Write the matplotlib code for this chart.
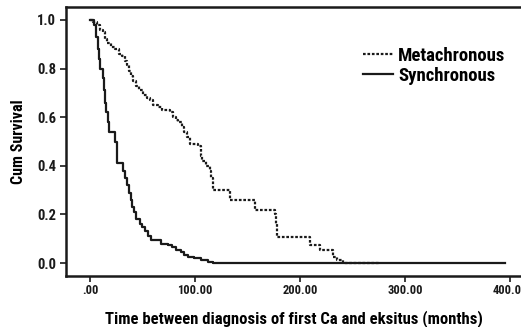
import matplotlib
matplotlib.use("Agg")
import matplotlib.pyplot as plt
from matplotlib.lines import Line2D

plt.rcParams['font.family'] = ['Roboto Condensed', 'DejaVu Sans']
plt.rcParams['font.stretch'] = 'condensed'
plt.rcParams['font.weight'] = 'bold'

# Kaplan-Meier step data (time in months, cumulative survival)
sync_t = [0, 4, 6, 7, 8, 9.5, 12.5, 13.5, 14.5, 15.5, 16.5, 18, 24, 25.5, 31.5, 33, 35, 37,
          38.5, 40, 41.5, 44, 47, 49.5, 52, 55, 58, 67, 74, 78, 82, 86, 89, 93, 99, 105,
          112, 117, 395]
sync_s = [1.0, 0.98, 0.93, 0.88, 0.84, 0.80, 0.76, 0.71, 0.66, 0.62, 0.58, 0.54, 0.50, 0.41,
          0.38, 0.35, 0.32, 0.29, 0.26, 0.23, 0.21, 0.18, 0.16, 0.15, 0.13, 0.11, 0.095, 0.08,
          0.074, 0.065, 0.053, 0.045, 0.035, 0.025, 0.02, 0.012, 0.005, 0.0, 0.0]

meta_t = [0, 3, 6.5, 9, 12, 14, 16, 20, 24, 27, 30, 33, 35, 37, 39, 41, 44, 46, 50, 54, 57,
          60, 65, 68, 76, 79, 82, 84, 87, 89, 92, 95, 103, 105, 106, 110, 114, 115, 117, 133,
          157, 176, 177, 178, 209.5, 219, 231.5, 235, 241, 276]
meta_s = [1.0, 0.99, 0.98, 0.96, 0.95, 0.92, 0.905, 0.89, 0.88, 0.86, 0.85, 0.83, 0.815, 0.79,
          0.77, 0.75, 0.73, 0.71, 0.69, 0.68, 0.67, 0.65, 0.64, 0.63, 0.62, 0.60, 0.59, 0.58,
          0.56, 0.54, 0.52, 0.49, 0.48, 0.44, 0.42, 0.40, 0.38, 0.35, 0.30, 0.26, 0.22, 0.20,
          0.16, 0.107, 0.074, 0.053, 0.025, 0.012, 0.0, 0.0]

x_ticks = [0, 100, 200, 300, 400]
x_tick_labels = ['.00', '100.00', '200.00', '300.00', '400.00']
y_ticks = [0.0, 0.2, 0.4, 0.6, 0.8, 1.0]
y_tick_labels = ['0.0', '0.2', '0.4', '0.6', '0.8', '1.0']

fig = plt.figure(figsize=(5.21, 3.27), dpi=100)
ax = fig.add_axes([66/521, 1 - 276/327, 1 - 66/521, (276 - 7)/327])

ax.plot(sync_t, sync_s, drawstyle='steps-post', color='#1a1a1a', lw=1.6, label='Synchronous')
ax.plot(meta_t, meta_s, drawstyle='steps-post', color='#1a1a1a', lw=1.6,
        linestyle=(0, (1.2, 0.8)), label='Metachronous')

ax.set_xlim(-23, 410)
ax.set_ylim(-0.053, 1.053)
ax.set_xticks(x_ticks)
ax.set_xticklabels(x_tick_labels)
ax.set_yticks(y_ticks)
ax.set_yticklabels(y_tick_labels)
ax.tick_params(direction='out', length=4, width=1.2, labelsize=9, colors='#1a1a1a', pad=2)
ax.tick_params(axis='y', labelsize=10.5, pad=3)
for s in ['left', 'bottom', 'top']:
    ax.spines[s].set_linewidth(1.8)
    ax.spines[s].set_color('#1a1a1a')
ax.spines['right'].set_visible(False)

ax.set_ylabel('Cum Survival', fontsize=11.5, fontweight='bold', labelpad=8)
ax.set_xlabel('Time between diagnosis of first Ca and eksitus (months)', fontsize=12,
              fontweight='bold', labelpad=9)

handles = [Line2D([0], [0], color='#1a1a1a', lw=1.6, linestyle=(0, (1.2, 0.8))),
           Line2D([0], [0], color='#1a1a1a', lw=1.6)]
leg = ax.legend(handles, ['Metachronous', 'Synchronous'], loc='upper left',
                bbox_to_anchor=(0.615, 0.915), frameon=False, fontsize=13.5,
                handlelength=1.6, handletextpad=0.3, labelspacing=0.1)

fig.savefig('out.png', dpi=100)
